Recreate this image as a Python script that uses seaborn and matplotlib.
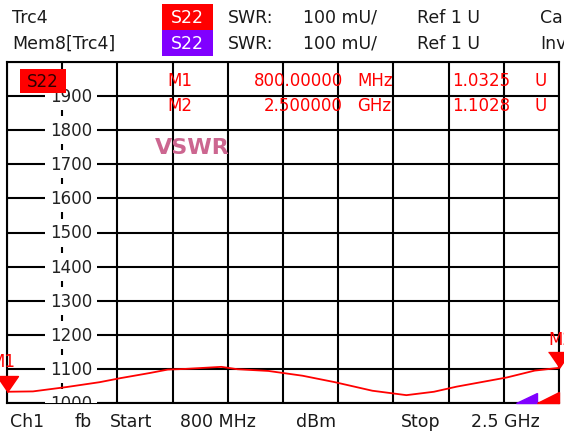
import numpy as np
import pandas as pd
import seaborn as sns
import matplotlib.pyplot as plt
from matplotlib.patches import Rectangle

# trace S22 (SWR, shown in mU), frequency in MHz
freq_mhz = [800, 880, 985, 1085, 1150, 1240, 1295, 1350, 1460, 1510,
            1605, 1710, 1810, 1925, 2030, 2115, 2185, 2340, 2425, 2500]
swr_mu = [1033, 1034, 1047, 1061, 1073, 1088, 1098, 1100, 1106, 1099,
          1094, 1080, 1061, 1036, 1023, 1033, 1048, 1075, 1095, 1103]

y_ticks = [1000, 1100, 1200, 1300, 1400, 1500, 1600, 1700, 1800, 1900, 2000]
x_start, x_stop = 800, 2500

m1 = (800, 1032.5)
m2 = (2500, 1102.8)

W, H = 564, 435
sns.set_style("white")
plt.rcParams['font.family'] = ['DejaVu Sans']

fig = plt.figure(figsize=(W / 100, H / 100), dpi=100)
ax = fig.add_axes([7 / W, 31 / H, 552 / W, 341 / H])


def fx(x):
    return x / W


def fy(y):
    return 1 - y / H


df = pd.DataFrame({"f": freq_mhz, "v": swr_mu})
sns.lineplot(data=df, x="f", y="v", color="#ff0000", lw=1.3, ax=ax, zorder=4)

ax.set_xlim(x_start, x_stop)
ax.set_ylim(1000, 2000)
ax.set_xticks(np.linspace(x_start, x_stop, 11))
ax.set_yticks(y_ticks)
ax.set_xticklabels([])
ax.set_yticklabels([])
ax.tick_params(length=0)
ax.grid(True, color="black", lw=1.5)
ax.set_xlabel("")
ax.set_ylabel("")
for s in ax.spines.values():
    s.set_color("black")
    s.set_linewidth(1.5)

# scale labels inside the grid
lab_x = x_start + 170 * 1.16
for v in y_ticks[:-1]:
    ax.text(lab_x, v, str(v), ha="center", va="center", fontsize=12,
            color="#222222", zorder=3, clip_on=True,
            bbox=dict(boxstyle="square,pad=0.3", fc="white", ec="none"))

# markers
tri = [(-11, 16), (11, 16), (0, 0)]
for mx, my in (m1, m2):
    ax.plot([mx], [my], marker=tri, ms=23, color="#ff0000", mec="#ff0000",
            clip_on=False, zorder=6)
fig.text(fx(3), fy(362), "M1", color="#ff0000", fontsize=12, ha="center", va="center")
fig.text(fx(548), fy(340), "M2", color="#ff0000", fontsize=12, ha="left", va="center")

# overflow ramps bottom right
ax.fill([0.922, 0.960, 0.960], [0, 0, 0.029], color="#8000ff",
        transform=ax.transAxes, zorder=5, clip_on=False)
ax.fill([0.960, 1.0, 1.0], [0, 0, 0.032], color="#ff0000",
        transform=ax.transAxes, zorder=5, clip_on=False)

# trace label box in plot
fig.add_artist(Rectangle((fx(20), fy(94)), 46 / W, 24 / H, transform=fig.transFigure,
                         fc="#ff0000", ec="none", zorder=7))
fig.text(fx(43), fy(82), "S22", color="#300000", fontsize=12, ha="center", va="center", zorder=8)

# marker readout
red = "#ff0000"
fig.text(fx(167), fy(81), "M1", color=red, fontsize=12, va="center")
fig.text(fx(343), fy(81), "800.00000", color=red, fontsize=12, va="center", ha="right")
fig.text(fx(357), fy(81), "MHz", color=red, fontsize=12, va="center")
fig.text(fx(510), fy(81), "1.0325", color=red, fontsize=12, va="center", ha="right")
fig.text(fx(535), fy(81), "U", color=red, fontsize=12, va="center")
fig.text(fx(167), fy(106), "M2", color=red, fontsize=12, va="center")
fig.text(fx(343), fy(106), "2.500000", color=red, fontsize=12, va="center", ha="right")
fig.text(fx(357), fy(106), "GHz", color=red, fontsize=12, va="center")
fig.text(fx(510), fy(106), "1.1028", color=red, fontsize=12, va="center", ha="right")
fig.text(fx(535), fy(106), "U", color=red, fontsize=12, va="center")

fig.text(fx(192), fy(148), "VSWR", color="#cc6690", fontsize=16, fontweight="bold",
         ha="center", va="center")

# header
dark = "#1a1a1a"
rows = [(18, "Trc4", "#ff0000", "Ca"), (44, "Mem8[Trc4]", "#8000ff", "Inv")]
for i, (ry, name, boxc, tail) in enumerate(rows):
    fig.add_artist(Rectangle((fx(162), fy(5 + 26 * (i + 1))), 51 / W, 26 / H,
                             transform=fig.transFigure, fc=boxc, ec="none"))
    fig.text(fx(12), fy(ry), name, color=dark, fontsize=12.5, va="center")
    fig.text(fx(187), fy(ry), "S22", color="white", fontsize=12.5, va="center", ha="center")
    fig.text(fx(228), fy(ry), "SWR:", color=dark, fontsize=12.5, va="center")
    fig.text(fx(303), fy(ry), "100 mU/", color=dark, fontsize=12.5, va="center")
    fig.text(fx(417), fy(ry), "Ref 1 U", color=dark, fontsize=12.5, va="center")
    fig.text(fx(540), fy(ry), tail, color=dark, fontsize=12.5, va="center")

# footer
for x, s in [(10, "Ch1"), (75, "fb"), (110, "Start"), (180, "800 MHz"),
             (296, "dBm"), (401, "Stop"), (471, "2.5 GHz")]:
    fig.text(fx(x), fy(422), s, color=dark, fontsize=12.5, va="center")

fig.savefig("out.png", dpi=100)
